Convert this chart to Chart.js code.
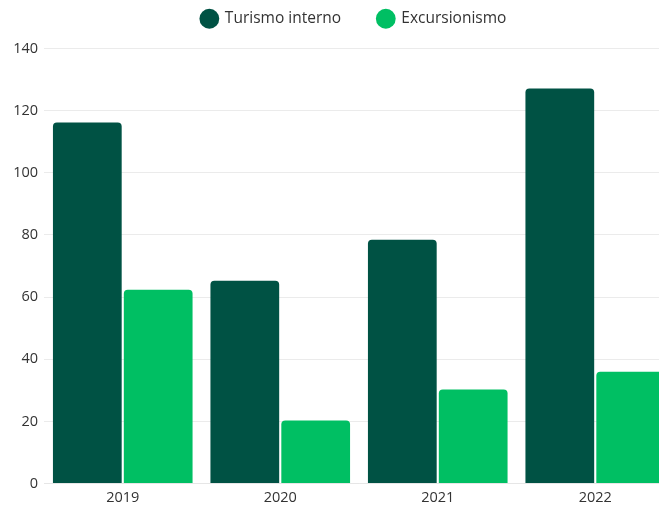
<!DOCTYPE html>
<html>
<head>
<meta charset="utf-8">
<script src="https://cdn.jsdelivr.net/npm/chart.js@4/dist/chart.umd.min.js"></script>
<style>
  html, body { margin: 0; padding: 0; background: #fff; overflow: hidden; }
  #wrap { position: relative; width: 708px; height: 508px; }
</style>
</head>
<body>
<div id="wrap"><canvas id="chart"></canvas></div>
<script>
// Years on the category axis
const years = ['2019', '2020', '2021', '2022'];
// Series values
const turismoInterno = [116.2, 65.3, 78.5, 127.1];
const excursionismo = [62.4, 20.3, 30.3, 36.0];
// Value-axis ticks
const yTicks = [0, 20, 40, 60, 80, 100, 120, 140];

const font = "'Open Sans', 'Noto Sans', sans-serif";

// Extra room between the legend and the plot
const legendSpace = {
  id: 'legendSpace',
  beforeInit(chart) {
    const fit = chart.legend.fit;
    chart.legend.fit = function () {
      fit.call(this);
      this.height += 12;
    };
  }
};

new Chart(document.getElementById('chart'), {
  type: 'bar',
  data: {
    labels: years,
    datasets: [
      {
        label: 'Turismo interno',
        data: turismoInterno,
        backgroundColor: '#005244',
        borderColor: '#005244',
        borderWidth: 0,
        borderRadius: 4,
        borderSkipped: 'bottom'
      },
      {
        label: 'Excursionismo',
        data: excursionismo,
        backgroundColor: '#00bf63',
        borderColor: '#00bf63',
        borderWidth: 0,
        borderRadius: 4,
        borderSkipped: 'bottom'
      }
    ]
  },
  options: {
    responsive: true,
    maintainAspectRatio: false,
    animation: false,
    categoryPercentage: 0.9,
    barPercentage: 0.97,
    layout: { padding: { left: 0, right: 0, top: -26, bottom: -5 } },
    plugins: {
      legend: {
        position: 'top',
        labels: {
          usePointStyle: true,
          pointStyle: 'circle',
          boxHeight: 14,
          color: '#333333',
          padding: 37,
          font: { family: font, size: 15.5 }
        }
      },
      tooltip: { enabled: false }
    },
    scales: {
      x: {
        grid: { display: false, drawTicks: false },
        border: { display: true, color: '#e6e6e6' },
        ticks: { color: '#333333', padding: 6, font: { family: font, size: 14.5 } }
      },
      y: {
        min: 0,
        max: 140,
        afterFit: (scale) => { scale.width = 44; },
        afterBuildTicks: (scale) => { scale.ticks = yTicks.map(v => ({ value: v })); },
        grid: { color: '#ebebeb', drawTicks: false },
        border: { display: false },
        ticks: { color: '#333333', padding: 6, font: { family: font, size: 14.5 } }
      },
      gutter: {
        type: 'linear',
        position: 'right',
        afterFit: (scale) => { scale.width = 34; },
        grid: { display: false, drawTicks: false },
        border: { display: false },
        ticks: { display: false }
      }
    }
  },
  plugins: [legendSpace]
});
</script>
</body>
</html>
